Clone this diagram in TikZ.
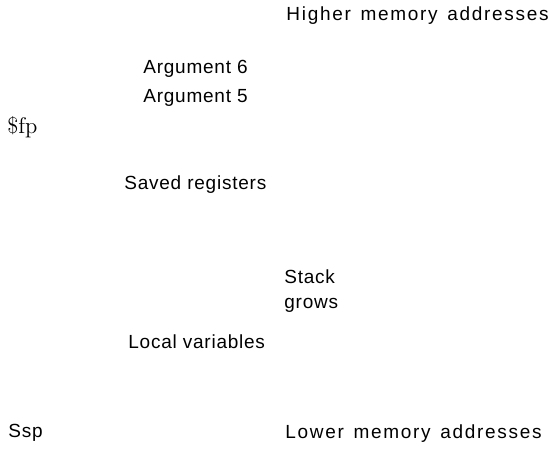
\documentclass[tikz,border=0pt]{standalone}
\usepackage{fontspec}
\setsansfont[LetterSpace=4]{Liberation Sans}
\newfontfamily\addrfont[LetterSpace=9]{Liberation Sans}
\newcommand\wordgap{\spaceskip=4.8pt\relax}
\usepackage{tikz}
\usetikzlibrary{positioning}

\begin{document}
\begin{tikzpicture}[x=0.5pt, y=-0.5pt,
    lbl/.style={anchor=base west, inner sep=0pt, font=\sffamily\fontsize{9.5}{11}\selectfont},
    addr/.style={anchor=base west, inner sep=0pt, font=\addrfont\fontsize{9.5}{11}\selectfont\wordgap},
    reg/.style={anchor=base west, inner sep=0pt}]
  \useasboundingbox (0,0) rectangle (549,448);
  % memory ends
  \node[addr] (high) at (286,21) {Higher memory addresses};
  \node[addr] (low)  at (285,438) {Lower memory addresses};
  % frame contents
  \node[lbl] (arg6)  at (143,74)  {Argument 6};
  \node[lbl] (arg5)  at (143,103) {Argument 5};
  \node[lbl] (saved) at (124,190) {Saved registers};
  \node[lbl] (local) at (128,348) {Local variables};
  \node[lbl] (stack) at (284,283) {Stack};
  \node[lbl] (grows) at (284,308) {grows};
  % pointers
  \node[reg, font=\fontsize{11.3}{13}\selectfont] (fp) at (7,134) {\$fp};
  \node[lbl] (sp) at (8,437) {Ssp};
\end{tikzpicture}
\end{document}
